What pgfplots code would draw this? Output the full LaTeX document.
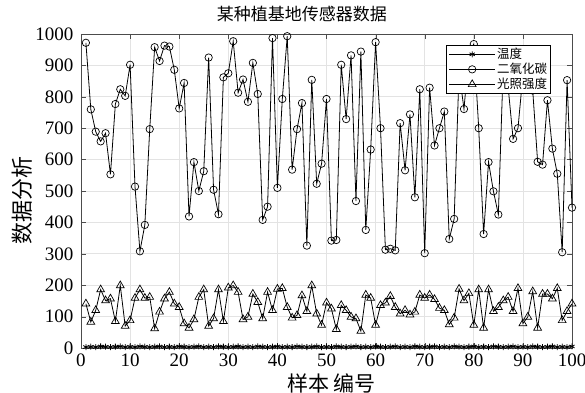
\documentclass[border=0pt]{standalone}
\usepackage{pgfplots}
\pgfplotsset{compat=1.18}
\usepackage{pgfplotstable}
\usepackage{fontspec}
\setmainfont{Liberation Serif}
\newfontfamily\cjk{Noto Sans CJK SC}
\pgfplotstableread{
x t c l
1 3 972 141
2 4 760 83
3 3 689 120
4 5 658 186
5 4 684 151
6 3 553 157
7 4 777 85
8 5 824 199
9 3 803 70
10 4 902 88
11 3 514 159
12 5 308 186
13 4 392 159
14 3 697 162
15 4 958 62
16 5 914 115
17 3 963 157
18 4 960 178
19 3 886 141
20 5 763 130
21 4 844 78
22 3 419 64
23 4 592 91
24 5 500 162
25 3 563 186
26 4 925 70
27 3 504 94
28 5 426 186
29 4 862 85
30 3 875 192
31 4 977 199
32 5 813 178
33 3 855 91
34 4 784 99
35 3 908 172
36 5 809 146
37 4 408 94
38 3 450 178
39 4 987 120
40 5 510 188
41 3 793 190
42 4 993 130
43 3 568 96
44 5 697 104
45 4 780 167
46 3 326 117
47 4 854 199
48 5 523 109
49 3 587 73
50 4 793 144
51 3 342 125
52 5 344 60
53 4 902 136
54 3 729 120
55 4 932 99
56 5 468 94
57 3 944 54
58 4 376 169
59 3 632 159
60 5 974 73
61 4 700 136
62 3 313 144
63 4 316 165
64 5 311 130
65 3 716 109
66 4 566 120
67 3 744 106
68 5 480 115
69 4 824 169
70 3 302 159
71 4 829 169
72 5 645 155
73 3 700 127
74 4 753 120
75 3 347 75
76 5 411 96
77 4 880 188
78 3 761 151
79 4 940 174
80 5 968 73
81 3 700 186
82 4 363 64
83 3 592 186
84 5 499 117
85 4 425 130
86 3 900 151
87 4 830 162
88 5 666 117
89 3 700 190
90 4 870 78
91 3 950 99
92 5 820 180
93 4 593 64
94 3 584 172
95 4 789 172
96 5 635 157
97 3 555 190
98 4 305 88
99 3 853 117
100 5 447 141
}\datatable
\begin{document}
\begin{tikzpicture}
\begin{axis}[
  scale only axis,
  width=491bp, height=314bp,
  xmin=0, xmax=100, ymin=0, ymax=1000,
  xtick={0,10,...,100}, ytick={0,100,...,1000},
  grid=major,
  major grid style={gray!22, line width=0.7pt},
  axis line style={gray!60!black, line width=0.8pt},
  tick style={gray!60!black},
  tick align=inside,
  major tick length=5bp,
  every tick label/.append style={font=\fontsize{19bp}{19bp}\selectfont, inner sep=0.5bp},
  xticklabel style={yshift=-5bp},
  yticklabel style={xshift=-7bp},
  /pgf/number format/assume math mode=true,
  /pgf/number format/set thousands separator={},
  title={\cjk\fontsize{17bp}{17bp}\selectfont 某种植基地传感器数据},
  title style={at={(axis description cs:0.45,1.043)}, anchor=center, inner sep=0pt},
  xlabel={\cjk\fontsize{21bp}{21bp}\selectfont 样本 编号},
  ylabel={\cjk\fontsize{22bp}{22bp}\selectfont 数据分析},
  xlabel style={at={(axis description cs:0.51,-0.1115)}, anchor=center, inner sep=0pt},
  ylabel style={at={(axis description cs:-0.1202,0.47)}, anchor=center, rotate=0, inner sep=0pt},
  legend style={at={(0.957,0.965)}, anchor=north east, draw=black, fill=white,
    line width=0.6pt, font=\cjk\fontsize{12.5bp}{13bp}\selectfont,
    inner xsep=2bp, inner ysep=1.5bp, nodes={inner sep=1.5bp},
    cells={anchor=west}},
  legend image code/.code={
    \draw[#1, mark=none] (0bp,0bp) -- (46bp,0bp);
    \draw[#1, only marks] plot coordinates {(23bp,0bp)};
  },
]
\addplot[black, line width=0.8pt, mark=asterisk, mark size=3bp] table[x=x, y=t] {\datatable};
\addlegendentry{温度}
\addplot[black, line width=0.8pt, mark=o, mark size=3.7bp, mark options={line width=0.7pt}] table[x=x, y=c] {\datatable};
\addlegendentry{二氧化碳}
\addplot[black, line width=0.8pt, mark=triangle, mark size=4.5bp, mark options={line width=0.7pt}] table[x=x, y=l] {\datatable};
\addlegendentry{光照强度}
\end{axis}
\pgfresetboundingbox
\path ([shift={(-81bp,-45bp)}]current axis.south west) rectangle ([shift={(13bp,34bp)}]current axis.north east);
\end{tikzpicture}
\end{document}
